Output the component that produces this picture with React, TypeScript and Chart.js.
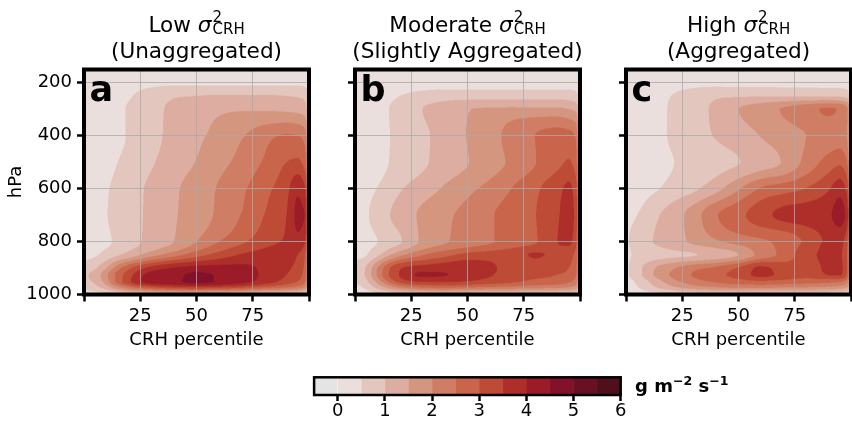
import React, { useEffect, useRef } from 'react';
import { Chart, registerables } from 'chart.js';

Chart.register(...registerables);
Chart.defaults.font.family = "'DejaVu Sans', sans-serif";

// grid of the composite: CRH percentile (x) by pressure level (hPa)
const crhPercentile = [0, 5, 10, 15, 20, 30, 40, 50, 60, 70, 80, 90, 95, 98, 100];
const pressureLevels = [150, 200, 250, 300, 400, 500, 600, 700, 800, 850, 900, 925, 950, 975, 1000];

// mass flux, g m^-2 s^-1, one row per pressure level
const lowVarianceFlux = [
  [0.05, 0.05, 0.08, 0.1, 0.12, 0.15, 0.18, 0.2, 0.2, 0.2, 0.2, 0.2, 0.2, 0.18, 0.1],
  [0.1, 0.1, 0.15, 0.2, 0.28, 0.36, 0.4, 0.4, 0.4, 0.4, 0.4, 0.4, 0.4, 0.38, 0.22],
  [0.1, 0.12, 0.2, 0.3, 0.45, 0.75, 0.95, 1.0, 1.05, 1.05, 1.05, 1.0, 0.95, 0.88, 0.45],
  [0.1, 0.15, 0.25, 0.4, 0.55, 0.85, 1.1, 1.25, 1.4, 1.45, 1.45, 1.4, 1.35, 1.25, 0.6],
  [0.1, 0.15, 0.25, 0.38, 0.55, 0.85, 1.15, 1.4, 1.65, 1.95, 2.3, 2.55, 2.5, 2.3, 1.1],
  [0.1, 0.2, 0.3, 0.5, 0.65, 0.95, 1.25, 1.52, 1.85, 2.15, 2.55, 3.0, 3.1, 2.8, 1.4],
  [0.15, 0.3, 0.45, 0.65, 0.8, 1.1, 1.42, 1.72, 2.05, 2.4, 2.85, 3.35, 3.9, 3.6, 1.7],
  [0.15, 0.3, 0.48, 0.7, 0.82, 1.12, 1.45, 1.75, 2.1, 2.52, 3.0, 3.5, 4.1, 4.0, 1.9],
  [0.2, 0.3, 0.42, 0.6, 0.8, 1.15, 1.5, 2.0, 2.5, 2.9, 3.3, 3.6, 3.85, 3.6, 1.7],
  [0.35, 0.45, 0.7, 0.95, 1.2, 1.8, 2.3, 2.8, 3.2, 3.55, 3.7, 3.7, 3.5, 3.1, 1.5],
  [0.7, 0.95, 1.5, 2.3, 2.9, 3.7, 4.05, 4.2, 4.2, 4.15, 3.9, 3.6, 3.3, 2.9, 1.4],
  [0.9, 1.2, 1.9, 2.7, 3.3, 4.2, 4.35, 4.6, 4.45, 4.3, 3.9, 3.5, 3.2, 2.8, 1.3],
  [0.9, 1.1, 1.8, 2.7, 3.4, 4.3, 4.4, 4.65, 4.45, 4.2, 3.8, 3.3, 3.0, 2.6, 1.2],
  [0.6, 0.8, 1.2, 1.8, 2.3, 2.9, 3.2, 3.3, 3.2, 3.0, 2.7, 2.4, 2.2, 1.9, 0.9],
  [0.2, 0.25, 0.3, 0.4, 0.5, 0.6, 0.65, 0.65, 0.6, 0.6, 0.5, 0.5, 0.4, 0.35, 0.2],
];

const moderateVarianceFlux = [
  [0.05, 0.05, 0.08, 0.1, 0.12, 0.15, 0.18, 0.2, 0.2, 0.2, 0.2, 0.2, 0.2, 0.18, 0.1],
  [0.1, 0.1, 0.15, 0.2, 0.25, 0.3, 0.3, 0.3, 0.3, 0.3, 0.3, 0.3, 0.3, 0.28, 0.18],
  [0.1, 0.15, 0.25, 0.4, 0.5, 0.65, 0.75, 0.78, 0.8, 0.8, 0.8, 0.8, 0.78, 0.7, 0.38],
  [0.1, 0.18, 0.3, 0.5, 0.62, 1.0, 1.3, 1.48, 1.55, 1.6, 1.6, 1.6, 1.5, 1.4, 0.65],
  [0.1, 0.15, 0.25, 0.48, 0.62, 0.9, 1.2, 1.52, 1.8, 2.2, 2.5, 2.7, 2.7, 2.45, 1.15],
  [0.1, 0.15, 0.25, 0.5, 0.62, 0.92, 1.2, 1.48, 1.8, 2.1, 2.48, 2.85, 3.05, 2.75, 1.3],
  [0.2, 0.35, 0.52, 0.75, 0.95, 1.25, 1.57, 1.88, 2.15, 2.52, 2.9, 3.35, 3.6, 3.25, 1.6],
  [0.3, 0.45, 0.7, 0.97, 1.2, 1.6, 1.9, 2.15, 2.45, 2.7, 2.98, 3.45, 3.7, 3.35, 1.6],
  [0.25, 0.38, 0.5, 0.75, 0.95, 1.6, 1.95, 2.2, 2.45, 2.7, 2.95, 3.5, 3.6, 3.2, 1.55],
  [0.35, 0.48, 0.9, 1.4, 1.85, 2.45, 2.85, 3.15, 3.25, 3.3, 3.55, 3.35, 3.2, 2.85, 1.4],
  [0.6, 1.05, 2.0, 2.9, 3.45, 3.75, 3.85, 3.85, 3.6, 3.3, 3.2, 3.1, 3.0, 2.7, 1.3],
  [0.6, 1.1, 2.1, 3.0, 3.55, 4.08, 4.02, 3.8, 3.55, 3.25, 3.1, 3.0, 2.9, 2.6, 1.2],
  [0.5, 0.9, 1.7, 2.6, 3.2, 3.6, 3.6, 3.5, 3.3, 3.1, 2.9, 2.8, 2.6, 2.3, 1.1],
  [0.3, 0.6, 1.1, 1.6, 2.0, 2.4, 2.5, 2.4, 2.3, 2.2, 2.1, 2.0, 1.9, 1.7, 0.8],
  [0.1, 0.2, 0.3, 0.4, 0.45, 0.5, 0.55, 0.55, 0.5, 0.5, 0.5, 0.45, 0.4, 0.35, 0.2],
];

const highVarianceFlux = [
  [0.05, 0.05, 0.08, 0.1, 0.12, 0.15, 0.18, 0.2, 0.2, 0.2, 0.2, 0.2, 0.2, 0.18, 0.1],
  [0.1, 0.1, 0.15, 0.2, 0.25, 0.32, 0.35, 0.35, 0.35, 0.35, 0.35, 0.35, 0.35, 0.32, 0.2],
  [0.1, 0.15, 0.25, 0.38, 0.5, 0.75, 0.92, 0.95, 0.97, 0.97, 0.97, 0.97, 0.93, 0.85, 0.42],
  [0.1, 0.15, 0.25, 0.4, 0.55, 0.82, 1.1, 1.5, 1.78, 2.05, 2.35, 2.55, 2.45, 2.15, 1.0],
  [0.1, 0.15, 0.25, 0.4, 0.55, 0.82, 1.03, 1.25, 1.52, 1.75, 2.0, 2.25, 2.3, 2.05, 1.0],
  [0.1, 0.15, 0.22, 0.35, 0.47, 0.65, 0.82, 0.98, 1.25, 1.55, 2.15, 2.7, 2.9, 2.6, 1.25],
  [0.15, 0.25, 0.38, 0.5, 0.65, 0.9, 1.32, 1.95, 2.55, 2.78, 3.02, 3.45, 3.8, 3.4, 1.6],
  [0.4, 0.5, 0.75, 1.0, 1.2, 1.75, 2.45, 2.85, 3.3, 3.65, 3.75, 3.92, 4.2, 3.9, 1.8],
  [0.45, 0.65, 0.92, 1.1, 1.25, 1.6, 1.92, 2.2, 2.42, 2.65, 3.1, 3.6, 3.65, 3.2, 1.5],
  [0.4, 0.6, 0.72, 0.8, 0.88, 0.97, 1.2, 1.5, 2.2, 2.65, 3.3, 3.6, 3.55, 3.1, 1.5],
  [0.4, 0.8, 1.25, 1.65, 1.9, 2.35, 2.6, 3.05, 3.6, 3.3, 3.2, 3.6, 3.6, 3.1, 1.45],
  [0.4, 0.8, 1.3, 1.75, 2.05, 2.55, 2.85, 3.2, 3.65, 3.35, 3.15, 3.52, 3.55, 3.0, 1.4],
  [0.3, 0.6, 1.0, 1.4, 1.8, 2.3, 2.6, 2.8, 2.95, 2.85, 2.75, 2.7, 2.6, 2.3, 1.1],
  [0.2, 0.45, 0.75, 1.05, 1.3, 1.7, 1.9, 2.0, 2.0, 1.95, 1.9, 1.8, 1.7, 1.5, 0.75],
  [0.1, 0.2, 0.25, 0.3, 0.35, 0.4, 0.45, 0.45, 0.45, 0.45, 0.45, 0.4, 0.35, 0.3, 0.2],
];

const xTicks = [0, 25, 50, 75, 100];
const pressureTicks = [200, 400, 600, 800, 1000];

// contour levels and the colour of each band
const levelEdges = [-0.5, 0, 0.5, 1, 1.5, 2, 2.5, 3, 3.5, 4, 4.5, 5, 5.5, 6];
const levelColors = [
  '#e4e4e4', '#eadfdd', '#e3c6bd', '#dcada0', '#d59680', '#cf7e65', '#c9654a',
  '#be4b35', '#ae2f29', '#9b1b28', '#83112a', '#681125', '#4f0f1c',
];
const colorbarTicks = [0, 1, 2, 3, 4, 5, 6];

const levelRgb = levelColors.map(h => [
  parseInt(h.slice(1, 3), 16), parseInt(h.slice(3, 5), 16), parseInt(h.slice(5, 7), 16),
]);

const FONT = { family: "'DejaVu Sans', sans-serif", size: 18 };

function locate(arr: number[], v: number): [number, number] {
  let i = 0;
  while (i < arr.length - 2 && v > arr[i + 1]) i++;
  const t = (v - arr[i]) / (arr[i + 1] - arr[i]);
  return [i, Math.min(1, Math.max(0, t))];
}

// monotone (Steffen) slopes so the smooth surface never overshoots the grid values
function slopes(xs: number[], ys: number[]) {
  const n = xs.length;
  const h: number[] = [];
  const s: number[] = [];
  for (let k = 0; k < n - 1; k++) {
    h.push(xs[k + 1] - xs[k]);
    s.push((ys[k + 1] - ys[k]) / h[k]);
  }
  const d = new Array(n).fill(0);
  d[0] = s[0];
  d[n - 1] = s[n - 2];
  for (let i = 1; i < n - 1; i++) {
    const p = (s[i - 1] * h[i] + s[i] * h[i - 1]) / (h[i - 1] + h[i]);
    d[i] = (Math.sign(s[i - 1]) + Math.sign(s[i])) *
      Math.min(Math.abs(s[i - 1]), Math.abs(s[i]), 0.5 * Math.abs(p));
  }
  return d;
}

function hermite(xs: number[], ys: number[], d: number[], v: number) {
  const [i, t] = locate(xs, v);
  const h = xs[i + 1] - xs[i];
  const t2 = t * t;
  const t3 = t2 * t;
  return (2 * t3 - 3 * t2 + 1) * ys[i] + (t3 - 2 * t2 + t) * h * d[i] +
    (-2 * t3 + 3 * t2) * ys[i + 1] + (t3 - t2) * h * d[i + 1];
}

function levelIndex(v: number) {
  let k = 0;
  while (k < levelColors.length - 1 && v >= levelEdges[k + 1]) k++;
  return k;
}

// filled contours, painted before the grid so the grid lies on top
const contourPlugin = (values: number[][]) => ({
  id: 'contourFill',
  beforeDraw(chart: any) {
    const { ctx, chartArea: a, scales } = chart;
    const res = (chart.currentDevicePixelRatio || 1) * 2;
    const w = Math.round((a.right - a.left) * res);
    const h = Math.round((a.bottom - a.top) * res);
    const off = document.createElement('canvas');
    off.width = w;
    off.height = h;
    const octx = off.getContext('2d');
    if (!octx) return;
    const img = octx.createImageData(w, h);
    const columns = crhPercentile.map((_, i) => values.map(row => row[i]));
    const columnSlopes = columns.map(col => slopes(pressureLevels, col));
    const xs: number[] = [];
    for (let px = 0; px < w; px++) xs.push(scales.x.getValueForPixel(a.left + (px + 0.5) / res));
    for (let py = 0; py < h; py++) {
      const p = scales.y.getValueForPixel(a.top + (py + 0.5) / res);
      const row = columns.map((col, i) => hermite(pressureLevels, col, columnSlopes[i], p));
      const rowSlopes = slopes(crhPercentile, row);
      for (let px = 0; px < w; px++) {
        const rgb = levelRgb[levelIndex(hermite(crhPercentile, row, rowSlopes, xs[px]))];
        const o = (py * w + px) * 4;
        img.data[o] = rgb[0];
        img.data[o + 1] = rgb[1];
        img.data[o + 2] = rgb[2];
        img.data[o + 3] = 255;
      }
    }
    octx.putImageData(img, 0, 0);
    ctx.save();
    ctx.imageSmoothingEnabled = true;
    ctx.imageSmoothingQuality = 'high';
    ctx.drawImage(off, a.left, a.top, a.right - a.left, a.bottom - a.top);
    ctx.restore();
  },
});

const framePlugin = (letter: string, lineWidth: number) => ({
  id: 'panelFrame',
  afterDraw(chart: any) {
    const { ctx, chartArea: a } = chart;
    ctx.save();
    ctx.strokeStyle = '#000';
    ctx.lineWidth = lineWidth;
    ctx.strokeRect(a.left, a.top, a.right - a.left, a.bottom - a.top);
    if (letter) {
      ctx.fillStyle = '#000';
      ctx.font = "bold 35px 'DejaVu Sans', sans-serif";
      ctx.textBaseline = 'alphabetic';
      ctx.fillText(letter, a.left + 5.5, a.top + 31);
    }
    ctx.restore();
  },
});

interface PanelProps {
  values: number[][];
  letter: string;
  showY: boolean;
  left: number;
}

const FluxPanel: React.FC<PanelProps> = ({ values, letter, showY, left }) => {
  const canvasRef = useRef<HTMLCanvasElement | null>(null);

  useEffect(() => {
    if (!canvasRef.current) return;
    const chart = new Chart(canvasRef.current, {
      type: 'scatter',
      data: { datasets: [{ data: [] }] },
      options: {
        responsive: false,
        animation: false,
        layout: { padding: { top: 69.5, right: 11, bottom: 5.5, left: 0 } },
        plugins: { legend: { display: false }, tooltip: { enabled: false } },
        scales: {
          x: {
            type: 'linear',
            min: 0,
            max: 100,
            afterBuildTicks: (s: any) => { s.ticks = xTicks.map(v => ({ value: v })); },
            afterFit: (s: any) => { s.height = 60; },
            ticks: {
              autoSkip: false,
              maxRotation: 0,
              padding: 4,
              color: '#000',
              font: FONT,
              callback: (v: any) => (v === 0 || v === 100 ? '' : String(v)),
            },
            grid: { color: 'rgba(170,170,170,0.8)', lineWidth: 1, tickColor: '#000', tickWidth: 2.5, tickLength: 7 },
            border: { display: false },
            title: { display: true, text: 'CRH percentile', color: '#000', font: FONT, padding: { top: 0, bottom: 3 } },
          },
          y: {
            type: 'linear',
            reverse: true,
            min: 150,
            max: 1000,
            afterBuildTicks: (s: any) => { s.ticks = pressureTicks.map(v => ({ value: v })); },
            afterFit: (s: any) => { s.width = 84; },
            ticks: {
              autoSkip: false,
              padding: 5,
              color: '#000',
              font: FONT,
              callback: (v: any) => (showY ? String(v) : ''),
            },
            grid: { color: 'rgba(170,170,170,0.8)', lineWidth: 1, tickColor: '#000', tickWidth: 2.5, tickLength: 7 },
            border: { display: false },
            title: { display: showY, text: 'hPa', color: '#000', font: FONT, padding: { top: 6, bottom: 0 } },
          },
        },
      },
      plugins: [contourPlugin(values), framePlugin(letter, 4)],
    } as any);

    return () => {
      chart.destroy();
    };
  }, [values, letter, showY]);

  return (
    <canvas
      ref={canvasRef}
      width={320}
      height={360}
      style={{ position: 'absolute', left, top: 0, width: 320, height: 360 }}
    />
  );
};

const Colorbar: React.FC = () => {
  const canvasRef = useRef<HTMLCanvasElement | null>(null);

  useEffect(() => {
    if (!canvasRef.current) return;
    const datasets = levelColors.map((c, i) => ({
      data: [[levelEdges[i], levelEdges[i + 1]]],
      backgroundColor: c,
      borderWidth: 0,
      grouped: false,
      barPercentage: 1,
      categoryPercentage: 1,
    }));
    const chart = new Chart(canvasRef.current, {
      type: 'bar',
      data: { labels: [''], datasets },
      options: {
        indexAxis: 'y',
        responsive: false,
        animation: false,
        layout: { padding: { top: 17.3, right: 29.3, bottom: 2, left: 24.1 } },
        plugins: { legend: { display: false }, tooltip: { enabled: false } },
        scales: {
          x: {
            type: 'linear',
            min: -0.5,
            max: 6,
            afterBuildTicks: (s: any) => { s.ticks = colorbarTicks.map(v => ({ value: v })); },
            afterFit: (s: any) => { s.height = 24; },
            ticks: { autoSkip: false, maxRotation: 0, padding: 0, color: '#000', font: FONT },
            grid: { drawOnChartArea: false, tickColor: '#000', tickWidth: 2.5, tickLength: 6 },
            border: { display: false },
          },
          y: { display: false },
        },
      },
      plugins: [framePlugin('', 2.5)],
    } as any);

    return () => {
      chart.destroy();
    };
  }, []);

  return (
    <canvas
      ref={canvasRef}
      width={360}
      height={61}
      style={{ position: 'absolute', left: 290, top: 360, width: 360, height: 61 }}
    />
  );
};

const PanelTitle: React.FC<{ cx: number; level: string; state: string }> = ({ cx, level, state }) => (
  <>
    <div style={{ position: 'absolute', left: cx - 160, width: 320, top: 11.5, textAlign: 'center', fontSize: 21.6, lineHeight: '26px', whiteSpace: 'nowrap' }}>
      {level} <span style={{ fontStyle: 'italic' }}>σ</span>
      <span style={{ display: 'inline-block', position: 'relative', width: 33, height: 10 }}>
        <span style={{ position: 'absolute', left: 1, top: -11.7, fontSize: 15, lineHeight: '15px' }}>2</span>
        <span style={{ position: 'absolute', left: 1, top: 0.3, fontSize: 15, lineHeight: '15px' }}>CRH</span>
      </span>
    </div>
    <div style={{ position: 'absolute', left: cx - 160, width: 320, top: 37.5, textAlign: 'center', fontSize: 21.6, lineHeight: '26px', whiteSpace: 'nowrap' }}>
      {state}
    </div>
  </>
);

export default function App() {
  return (
    <div
      style={{
        position: 'absolute', left: 0, top: 0, width: 852, height: 421, overflow: 'hidden',
        background: '#fff', color: '#000', fontFamily: "'DejaVu Sans', sans-serif",
      }}
    >
      <FluxPanel values={lowVarianceFlux} letter="a" showY={true} left={0} />
      <FluxPanel values={moderateVarianceFlux} letter="b" showY={false} left={271} />
      <FluxPanel values={highVarianceFlux} letter="c" showY={false} left={542} />
      <PanelTitle cx={196.5} level="Low" state="(Unaggregated)" />
      <PanelTitle cx={467.5} level="Moderate" state="(Slightly Aggregated)" />
      <PanelTitle cx={738.5} level="High" state="(Aggregated)" />
      <Colorbar />
      <div style={{ position: 'absolute', left: 635, top: 374.5, fontSize: 18, lineHeight: '22px', fontWeight: 'bold', whiteSpace: 'nowrap' }}>
        g m<span style={{ fontSize: 12.6, position: 'relative', top: -7 }}>−2</span> s<span style={{ fontSize: 12.6, position: 'relative', top: -7 }}>−1</span>
      </div>
    </div>
  );
}
